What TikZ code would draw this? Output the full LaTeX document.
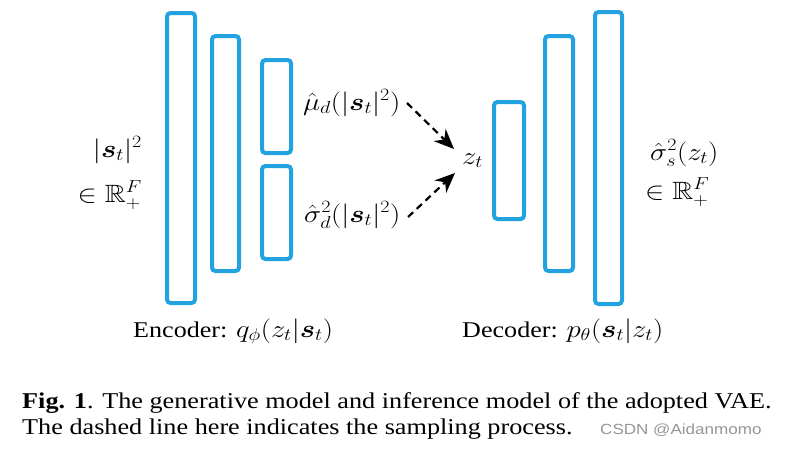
\documentclass[tikz,border=0pt]{standalone}
\usepackage{fontspec}
\setmainfont{Liberation Serif}
\newfontfamily\wmfont{Liberation Sans}
\usepackage{amsmath,amssymb,bm}
\usetikzlibrary{arrows.meta}
\definecolor{layerblue}{RGB}{35,162,224}
\definecolor{wmgray}{RGB}{150,150,150}
\newcommand\hstretch[1]{\scalebox{1.16}[1]{#1}}
\newcommand\mathsz{\fontsize{25}{30}\selectfont}
\tikzset{
  layer/.style={draw=layerblue, line width=4pt, rounded corners=3.5pt},
  lbl/.style={inner sep=0pt, font=\mathsz},
  samp/.style={dashed, dash pattern=on 7pt off 5pt, line width=2.2pt, -{Stealth[length=20pt,width=17pt]}},
  captxt/.style={inner sep=0pt, anchor=base west, font=\fontsize{22.6}{24}\selectfont},
  enctxt/.style={inner sep=0pt, anchor=base west, font=\fontsize{22.5}{26}\selectfont},
}
\begin{document}
\begin{tikzpicture}[x=1pt,y=-1pt]
\useasboundingbox (0,0) rectangle (790,453);
% encoder layers
\draw[layer] (167,13) rectangle (195,303);
\draw[layer] (212,36) rectangle (239,271);
\draw[layer] (262,60) rectangle (291,153);
\draw[layer] (262,166) rectangle (291,259);
% decoder layers
\draw[layer] (494,102) rectangle (524,219);
\draw[layer] (545,36) rectangle (573,271);
\draw[layer] (595,12) rectangle (622,304);
% labels
\node[lbl, anchor=base east] (in1) at (142,157) {\hstretch{$|\bm{s}_t|^2$}};
\node[lbl, anchor=base east] (in2) at (142,202) {\hstretch{$\in\mathbb{R}_+^F$}};
\node[lbl, anchor=base west] (mu) at (303,110) {\hstretch{$\hat{\mu}_d(|\bm{s}_t|^2)$}};
\node[lbl, anchor=base west] (sig) at (304,222) {\hstretch{$\hat{\sigma}_d^2(|\bm{s}_t|^2)$}};
\node[lbl, anchor=base west] (z) at (462,164) {\hstretch{$z_t$}};
\node[lbl, anchor=base west] (out1) at (650,160) {\hstretch{$\hat{\sigma}_s^2(z_t)$}};
\node[lbl, anchor=base west] (out2) at (645,199) {\hstretch{$\in\mathbb{R}_+^F$}};
\node[enctxt] (enc) at (133,337) {\hstretch{Encoder: {\mathsz$q_\phi(z_t|\bm{s}_t)$}}};
\node[enctxt] (dec) at (462,337) {\hstretch{Decoder: {\mathsz$p_\theta(\bm{s}_t|z_t)$}}};
% sampling arrows
\coordinate (a1) at (407,103);
\coordinate (t1) at (454,149);
\coordinate (a2) at (408,217);
\coordinate (t2) at (455,173);
\draw[samp] (a1) -- (t1);
\draw[samp] (a2) -- (t2);
% caption
\node[captxt] (c1) at (22,408) {\hstretch{\textbf{Fig. 1}. The generative model and inference model of the adopted VAE.}};
\node[captxt] (c2) at (22,434) {\hstretch{The dashed line here indicates the sampling process.}};
\node[inner sep=0pt, anchor=base west, text=wmgray, font=\wmfont\fontsize{14.7}{18}\selectfont] (wm) at (600,434) {\hstretch{CSDN @Aidanmomo}};
\end{tikzpicture}
\end{document}
